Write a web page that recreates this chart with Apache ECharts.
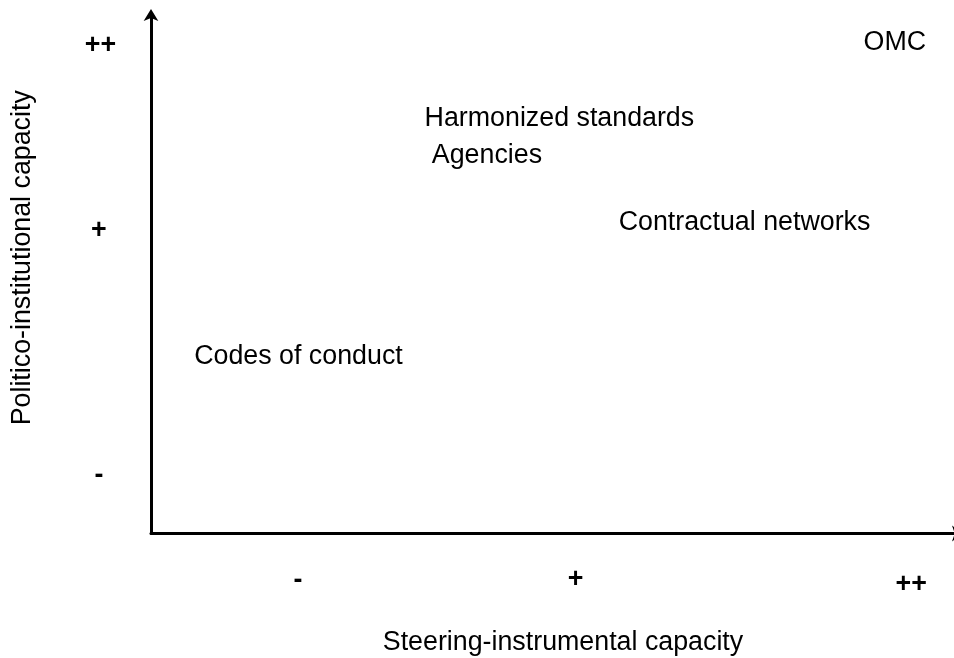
<!DOCTYPE html>
<html>
<head>
<meta charset="utf-8">
<title>Capacity chart</title>
<script src="https://cdn.jsdelivr.net/npm/echarts@6/dist/echarts.min.js"></script>
<style>
  html, body { margin: 0; padding: 0; background: #fff; }
  #main { width: 954px; height: 658px; }
</style>
</head>
<body>
<div id="main"></div>
<script>
"use strict";
// instruments placed by steering (x) and politico (y) capacity, 0..100
var instruments = ['OMC', 'Harmonized standards', 'Agencies', 'Contractual networks', 'Codes of conduct'];
var steering = [88.3, 33.9, 34.8, 57.95, 5.35];
var politico = [94.5, 79.9, 72.7, 59.9, 34.0];

// tick marks drawn as text next to the axes
var yTickLabels = ['++', '+', '-'];
var yTickX = [-6.26, -6.45, -6.45];
var yTickY = [94.0, 58.4, 11.05];
var xTickLabels = ['-', '+', '++'];
var xTickX = [18.2, 52.6, 94.2];
var xTickY = [-9.06, -8.97, -9.93];

var FONT = 'Liberation Sans, Arial, sans-serif';
var FS = 26.8;

function textPoints(names, xs, ys) {
    return names.map(function(n, i) {
        return { name: n, value: [xs[i], ys[i]] };
    });
}

var myChart = echarts.init(document.getElementById('main'));
var option = {
    animation: false,
    grid: { left: 151, width: 807, top: 14, bottom: 124.5, outerBoundsMode: 'none' },
    xAxis: {
        type: 'value',
        min: 0,
        max: 100,
        name: 'Steering-instrumental capacity',
        nameLocation: 'middle',
        nameGap: 96,
        nameTextStyle: { fontFamily: FONT, fontSize: FS, color: '#000', padding: [0, 0, 0, 17] },
        axisLine: { show: true, symbol: ['none', 'arrow'], symbolSize: [12, 11], symbolOffset: [0, 5],
            lineStyle: { color: '#000', width: 3 } },
        axisTick: { show: false },
        axisLabel: { show: false },
        splitLine: { show: false }
    },
    yAxis: {
        type: 'value',
        min: 0,
        max: 100,
        name: 'Politico-institutional capacity',
        nameLocation: 'middle',
        nameGap: 115,
        nameTextStyle: { fontFamily: FONT, fontSize: FS, color: '#000', padding: [0, 0, 0, 32] },
        axisLine: { show: true, symbol: ['none', 'arrow'], symbolSize: [11, 12], symbolOffset: [0, 5],
            lineStyle: { color: '#000', width: 3 } },
        axisTick: { show: false },
        axisLabel: { show: false },
        splitLine: { show: false }
    },
    series: [
        {
            type: 'scatter',
            symbolSize: 0,
            clip: false,
            itemStyle: { opacity: 1 },
            data: textPoints(instruments, steering, politico),
            label: {
                show: true,
                position: 'inside',
                align: 'left',
                verticalAlign: 'middle',
                formatter: '{b}',
                fontFamily: FONT,
                fontSize: FS,
                color: '#000'
            }
        },
        {
            type: 'scatter',
            symbolSize: 0,
            clip: false,
            itemStyle: { opacity: 1 },
            data: textPoints(yTickLabels, yTickX, yTickY).concat(textPoints(xTickLabels, xTickX, xTickY)),
            label: {
                show: true,
                position: 'inside',
                align: 'center',
                verticalAlign: 'middle',
                formatter: '{b}',
                fontFamily: FONT,
                fontSize: FS,
                fontWeight: 'bold',
                color: '#000'
            }
        }
    ]
};
myChart.setOption(option);
</script>
</body>
</html>
